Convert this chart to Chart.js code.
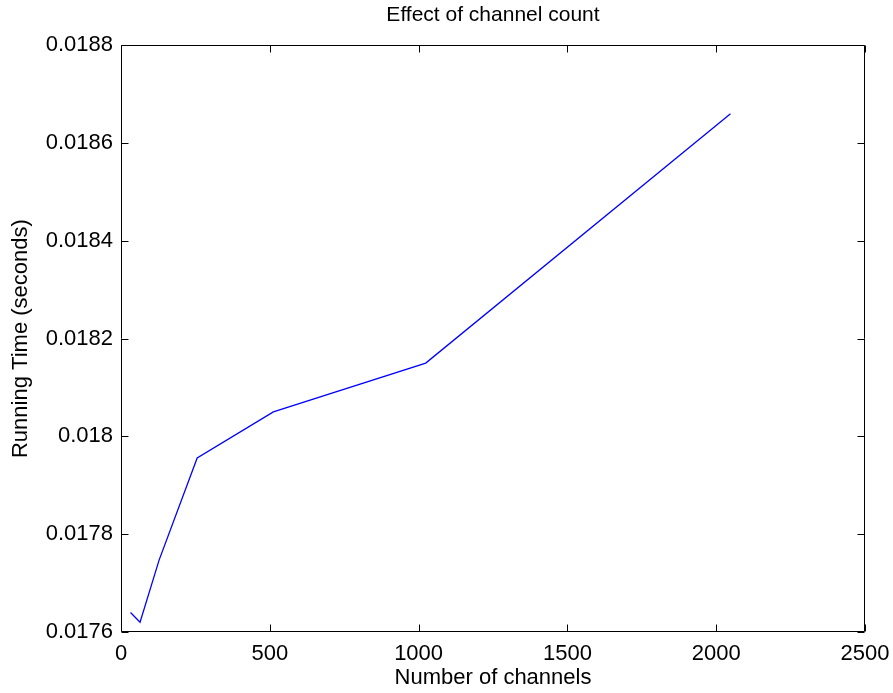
<!DOCTYPE html>
<html>
<head>
<meta charset="utf-8">
<script src="https://cdn.jsdelivr.net/npm/chart.js@4"></script>
<style>
    html, body { margin: 0; padding: 0; background: #fff; }
    #wrap { width: 893px; height: 693px; }
</style>
</head>
<body>
<div id="wrap"><canvas id="timeChart" width="893" height="693"></canvas></div>
<script>
const channels = [32, 64, 128, 256, 512, 1024, 2048];
const runTimes = [0.01764, 0.01762, 0.017747, 0.017956, 0.01805, 0.01815, 0.01866];
const xTicks = [0, 500, 1000, 1500, 2000, 2500];
const yTicks = [0.0176, 0.0178, 0.018, 0.0182, 0.0184, 0.0186, 0.0188];

Chart.defaults.color = '#000';
Chart.defaults.font.family = "'Liberation Sans', Arial, sans-serif";

// matlab-style box with ticks pointing inward on all four sides
const frameTicks = {
    id: 'frameTicks',
    afterDraw(chart) {
        const { ctx, chartArea: a, scales: { x, y } } = chart;
        const len = 7;
        const L = Math.round(a.left) + 0.5, R = Math.round(a.right) - 0.5;
        const T = Math.round(a.top) + 0.5, B = Math.round(a.bottom) - 0.5;
        ctx.save();
        ctx.strokeStyle = '#000';
        ctx.lineWidth = 1;
        ctx.beginPath();
        ctx.rect(L, T, R - L, B - T);
        x.ticks.forEach(t => {
            const px = Math.round(x.getPixelForValue(t.value)) + 0.5;
            ctx.moveTo(px, B); ctx.lineTo(px, B - len);
            ctx.moveTo(px, T); ctx.lineTo(px, T + len);
        });
        y.ticks.forEach(t => {
            const py = Math.round(y.getPixelForValue(t.value)) + 0.5;
            ctx.moveTo(L, py); ctx.lineTo(L + len, py);
            ctx.moveTo(R, py); ctx.lineTo(R - len, py);
        });
        ctx.stroke();
        ctx.restore();
    }
};

new Chart(document.getElementById('timeChart'), {
    type: 'line',
    data: {
        datasets: [{
            data: channels.map((c, i) => ({ x: c, y: runTimes[i] })),
            borderColor: '#0000ff',
            borderWidth: 1.3,
            pointRadius: 0,
            tension: 0,
            fill: false
        }]
    },
    options: {
        responsive: false,
        animation: false,
        devicePixelRatio: 1,
        layout: { padding: { left: 0, right: 28, top: 0, bottom: 0 } },
        plugins: {
            legend: { display: false },
            tooltip: { enabled: false },
            title: {
                display: true,
                text: 'Effect of channel count',
                fullSize: false,
                font: { size: 21, weight: 'normal' },
                padding: { top: 3, bottom: 17 }
            }
        },
        scales: {
            x: {
                type: 'linear',
                min: 0,
                max: 2500,
                afterBuildTicks: s => { s.ticks = xTicks.map(v => ({ value: v })); },
                afterFit: s => { s.height = 61; s.paddingLeft = 0; s.paddingRight = 0; },
                grid: { display: false, drawTicks: false },
                border: { display: false },
                ticks: { font: { size: 22 }, padding: 9, maxRotation: 0, callback: v => String(v) },
                title: { display: true, text: 'Number of channels', font: { size: 22 }, padding: { top: 0, bottom: 2 } }
            },
            y: {
                type: 'linear',
                min: 0.0176,
                max: 0.0188,
                afterBuildTicks: s => { s.ticks = yTicks.map(v => ({ value: v })); },
                afterFit: s => { s.width = 121; },
                grid: { display: false, drawTicks: false },
                border: { display: false },
                ticks: { font: { size: 22 }, padding: 8, callback: v => String(+v.toFixed(4)) },
                title: { display: true, text: 'Running Time (seconds)', font: { size: 22 }, padding: { top: 8, bottom: 0 } }
            }
        }
    },
    plugins: [frameTicks]
});
</script>
</body>
</html>
